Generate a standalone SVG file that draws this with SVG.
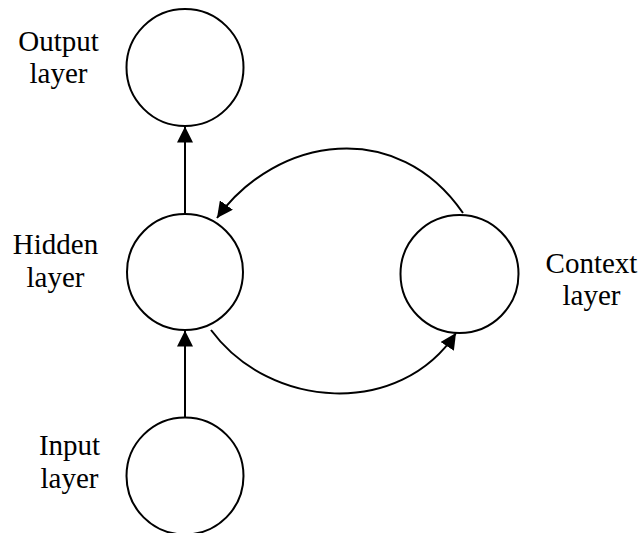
<svg xmlns="http://www.w3.org/2000/svg" width="641" height="533" viewBox="0 0 641 533">
<style>
.node circle{fill:#fff;stroke:#000;stroke-width:2}
.lbl{font-family:"Liberation Serif","Times New Roman",serif;font-size:29px;fill:#000;text-anchor:middle}
.edge{fill:none;stroke:#000;stroke-width:2;marker-end:url(#arr)}
</style>
<defs>
<marker id="arr" viewBox="0 0 16 16" refX="16" refY="8" markerWidth="16" markerHeight="16" markerUnits="userSpaceOnUse" orient="auto">
<path d="M0,0 L16,8 L0,16 z" fill="#000"/>
</marker>
</defs>
<rect width="641" height="533" fill="#fff"/>
<g id="connectors">
<path class="edge" d="M185,214 L185,126.5"/>
<path class="edge" d="M185,417.5 L185,330.5"/>
<path class="edge" d="M463,213 C398,118 277,135 217,218"/>
<path class="edge" d="M211,330 C270,410 400,418 456,333"/>
</g>
<g id="output" class="node">
<circle cx="185" cy="67.5" r="58.5"/>
<text class="lbl" x="58.5" y="50.5">Output</text>
<text class="lbl" x="58.5" y="83">layer</text>
</g>
<g id="hidden" class="node">
<circle cx="185" cy="272" r="58"/>
<text class="lbl" x="55.5" y="254">Hidden</text>
<text class="lbl" x="55.5" y="287">layer</text>
</g>
<g id="input" class="node">
<circle cx="185" cy="476" r="58.5"/>
<text class="lbl" x="69.5" y="455">Input</text>
<text class="lbl" x="69.5" y="488">layer</text>
</g>
<g id="context" class="node">
<circle cx="459.5" cy="274" r="59"/>
<text class="lbl" x="591.5" y="273">Context</text>
<text class="lbl" x="591.5" y="305">layer</text>
</g>
</svg>
